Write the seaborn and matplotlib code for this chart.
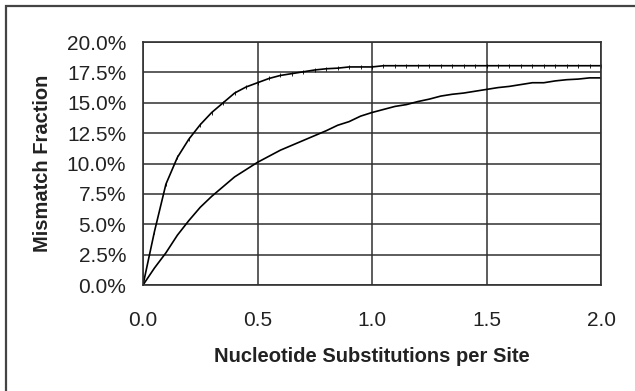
# -*- coding: utf-8 -*-
"""
Mismatch fraction vs nucleotide substitutions per site
"""

import numpy as np
import pandas as pd
import matplotlib
matplotlib.use('Agg')
import matplotlib.pyplot as plt
import matplotlib.ticker as mticker
from matplotlib.patches import Rectangle
import seaborn as sns

# 数据
substitutions = [0.00, 0.05, 0.10, 0.15, 0.20, 0.25, 0.30, 0.35, 0.40, 0.45,
                 0.50, 0.55, 0.60, 0.65, 0.70, 0.75, 0.80, 0.85, 0.90, 0.95,
                 1.00, 1.05, 1.10, 1.15, 1.20, 1.25, 1.30, 1.35, 1.40, 1.45,
                 1.50, 1.55, 1.60, 1.65, 1.70, 1.75, 1.80, 1.85, 1.90, 1.95,
                 2.00]

upper_pct = [0.0, 4.4, 8.3, 10.5, 12.0, 13.2, 14.2, 15.0, 15.8, 16.3,
             16.65, 17.0, 17.25, 17.4, 17.55, 17.7, 17.8, 17.85, 17.95, 17.95,
             17.95, 18.05, 18.05, 18.05, 18.05, 18.05, 18.05, 18.05, 18.05, 18.05,
             18.05, 18.05, 18.05, 18.05, 18.05, 18.05, 18.05, 18.05, 18.05, 18.05,
             18.05]

lower_pct = [0.0, 1.4, 2.65, 4.1, 5.3, 6.4, 7.3, 8.1, 8.9, 9.5,
             10.1, 10.6, 11.1, 11.5, 11.9, 12.3, 12.7, 13.15, 13.45, 13.9,
             14.2, 14.45, 14.7, 14.85, 15.1, 15.3, 15.55, 15.7, 15.8, 15.95,
             16.1, 16.25, 16.35, 16.5, 16.65, 16.65, 16.8, 16.9, 16.95, 17.05,
             17.05]

x_ticks = [0.0, 0.5, 1.0, 1.5, 2.0]
y_ticks = [0.0, 0.025, 0.05, 0.075, 0.10, 0.125, 0.15, 0.175, 0.20]

df_upper = pd.DataFrame({'x': substitutions, 'y': [v / 100 for v in upper_pct]})
df_lower = pd.DataFrame({'x': substitutions, 'y': [v / 100 for v in lower_pct]})

sns.set_style('white')
plt.rcParams['font.family'] = ['Liberation Sans', 'DejaVu Sans']

fig = plt.figure(figsize=(6.35, 3.91), dpi=100)
ax = fig.add_axes([0.2252, 0.271, 0.7213, 0.6215])

sns.lineplot(data=df_upper, x='x', y='y', color='black', linewidth=1.2,
             marker='|', markersize=2.5, markeredgewidth=0.6,
             markeredgecolor='black', ax=ax, legend=False)
sns.lineplot(data=df_lower, x='x', y='y', color='black', linewidth=1.2,
             ax=ax, legend=False)

ax.set_xlim(0, 2)
ax.set_ylim(0, 0.2)
ax.set_xticks(x_ticks)
ax.set_yticks(y_ticks)
ax.xaxis.set_major_formatter(mticker.FormatStrFormatter('%.1f'))
ax.yaxis.set_major_formatter(mticker.PercentFormatter(1.0, decimals=1))

ax.grid(True, color='#303030', linewidth=1.1)
ax.set_axisbelow(True)
for s in ax.spines.values():
    s.set_color('#303030')
    s.set_linewidth(1.2)

ax.tick_params(axis='both', direction='out', length=4.5, width=1,
               color='#303030', labelsize=15, labelcolor='#222222')
ax.tick_params(axis='y', pad=7.5)
ax.tick_params(axis='x', pad=14.5)

ax.set_xlabel('Nucleotide Substitutions per Site', fontsize=14.5,
              fontweight='bold', color='#222222', labelpad=12)
ax.set_ylabel('Mismatch Fraction', fontsize=14.5, fontweight='bold',
              color='#222222', labelpad=11)

# 外框
fig.patches.append(Rectangle((6 / 635, -0.1), 1.2, 1 - 6 / 391 + 0.1,
                             transform=fig.transFigure, fill=False,
                             edgecolor='#444444', linewidth=1.6))

fig.savefig('out.png', dpi=100)
